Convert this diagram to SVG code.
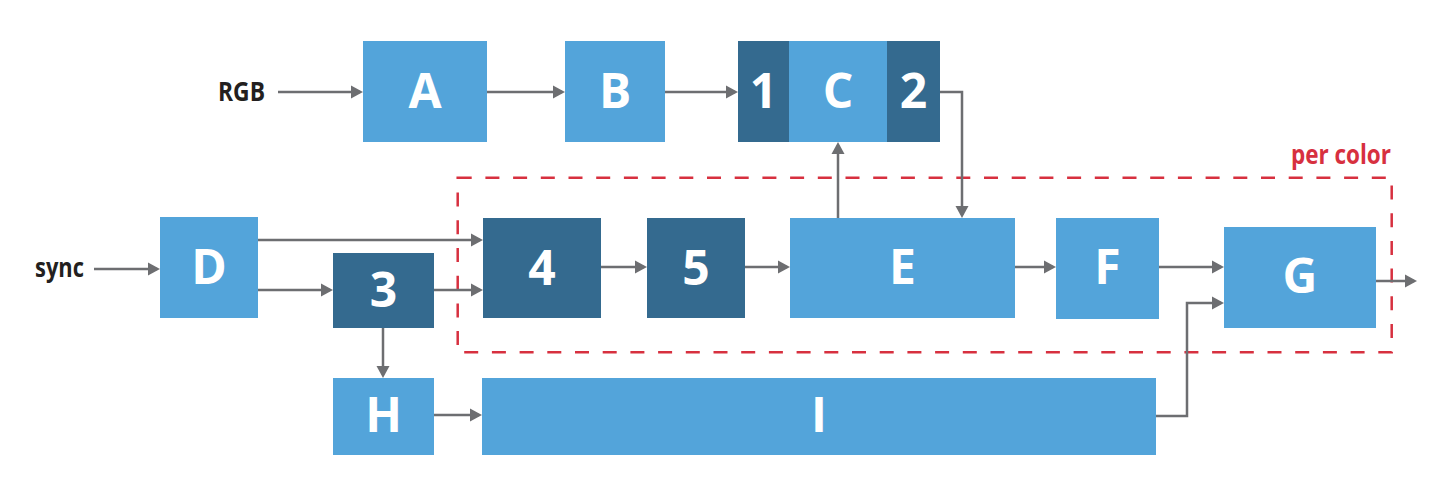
<svg xmlns="http://www.w3.org/2000/svg" width="1442" height="484" viewBox="0 0 1442 484">
<defs>
<style>
.lb{fill:#53A4DA}
.dk{fill:#346A8F}
.t{font-family:"Open Sans","Noto Sans",sans-serif;font-weight:700;font-size:48px;fill:#FFFFFF;text-anchor:middle}
.lab{font-family:"Open Sans","Noto Sans",sans-serif;font-weight:700;font-size:27px;fill:#231F20}
.pc{font-family:"Open Sans","Noto Sans",sans-serif;font-weight:700;font-size:26px;fill:#D7303F}
.c{fill:none;stroke:#6D6E71;stroke-width:2.5;marker-end:url(#ah)}
</style>
<marker id="ah" markerUnits="userSpaceOnUse" markerWidth="14" markerHeight="14" viewBox="0 0 12 14" refX="9" refY="7" orient="auto">
<path d="M0,0.5 L12,7 L0,13.5 Z" fill="#6D6E71"/>
</marker>
</defs>
<rect width="1442" height="484" fill="#FFFFFF"/>

<g id="per-color">
<rect x="457.7" y="177.7" width="934" height="174.6" fill="none" stroke="#D7303F" stroke-width="2.5" stroke-dasharray="14 13.7"/>
<text class="pc" x="1291" y="164" textLength="100" lengthAdjust="spacingAndGlyphs">per color</text>
</g>

<g id="connectors">
<path class="c" d="M278,92 H360"/>
<path class="c" d="M487,92 H562"/>
<path class="c" d="M665,92 H735"/>
<path class="c" d="M94,269 H157"/>
<path class="c" d="M258,240 H480"/>
<path class="c" d="M258,290 H330"/>
<path class="c" d="M434,290 H480"/>
<path class="c" d="M601,267 H644"/>
<path class="c" d="M745,267 H787"/>
<path class="c" d="M838,218 V145"/>
<path class="c" d="M940,92 H962 V215"/>
<path class="c" d="M1015,267 H1053"/>
<path class="c" d="M1159,267 H1221"/>
<path class="c" d="M1156,416 H1187 V303 H1221"/>
<path class="c" d="M1376,281 H1414"/>
<path class="c" d="M383,328 V375"/>
<path class="c" d="M434,415 H479"/>
</g>

<g id="label-rgb"><text class="lab" x="218" y="101" textLength="47" lengthAdjust="spacingAndGlyphs">RGB</text></g>
<g id="label-sync"><text class="lab" x="35" y="277" textLength="49" lengthAdjust="spacingAndGlyphs">sync</text></g>

<g id="A"><rect class="lb" x="363" y="41" width="124" height="101"/><text class="t" x="425" y="108">A</text></g>
<g id="B"><rect class="lb" x="565" y="41" width="100" height="101"/><text class="t" x="615" y="108">B</text></g>
<g id="C"><rect class="lb" x="789" y="41" width="98" height="101"/><text class="t" x="838" y="108">C</text></g>
<g id="n1"><rect class="dk" x="738" y="41" width="51" height="101"/><text class="t" x="763.5" y="108">1</text></g>
<g id="n2"><rect class="dk" x="887" y="41" width="53" height="101"/><text class="t" x="913.5" y="108">2</text></g>
<g id="D"><rect class="lb" x="160" y="217" width="98" height="101"/><text class="t" x="209" y="284">D</text></g>
<g id="n3"><rect class="dk" x="333" y="253" width="101" height="75"/><text class="t" x="383.5" y="307">3</text></g>
<g id="n4"><rect class="dk" x="483" y="218" width="118" height="100"/><text class="t" x="542" y="285">4</text></g>
<g id="n5"><rect class="dk" x="647" y="218" width="98" height="100"/><text class="t" x="696" y="285">5</text></g>
<g id="E"><rect class="lb" x="790" y="218" width="225" height="100"/><text class="t" x="902.5" y="284">E</text></g>
<g id="F"><rect class="lb" x="1056" y="218" width="103" height="101"/><text class="t" x="1107.5" y="284">F</text></g>
<g id="G"><rect class="lb" x="1224" y="227" width="152" height="101"/><text class="t" x="1300" y="293">G</text></g>
<g id="H"><rect class="lb" x="333" y="378" width="101" height="77"/><text class="t" x="383.5" y="432">H</text></g>
<g id="I"><rect class="lb" x="482" y="378" width="674" height="77"/><text class="t" x="819" y="432">I</text></g>
</svg>
